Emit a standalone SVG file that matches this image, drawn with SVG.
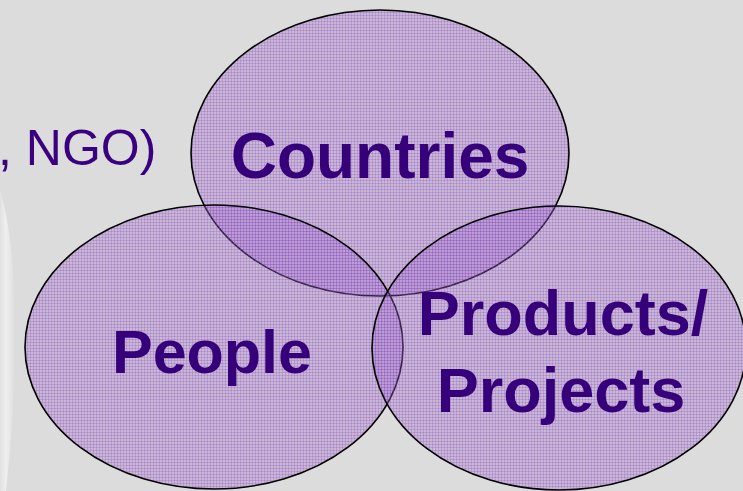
<svg xmlns="http://www.w3.org/2000/svg" width="743" height="491" viewBox="0 0 743 491">
  <defs>
    <pattern id="weave" width="3" height="3" patternUnits="userSpaceOnUse">
      <rect width="3" height="3" fill="#a36ad2" fill-opacity="0.32"/>
      <rect width="3" height="1" fill="#7b3aae" fill-opacity="0.22"/>
      <rect width="1" height="3" fill="#7b3aae" fill-opacity="0.22"/>
    </pattern>
    <linearGradient id="swoosh" x1="0" y1="0" x2="1" y2="0">
      <stop offset="0" stop-color="#ffffff" stop-opacity="0.15"/>
      <stop offset="0.4" stop-color="#ffffff" stop-opacity="0.55"/>
      <stop offset="1" stop-color="#ffffff" stop-opacity="0"/>
    </linearGradient>
  </defs>
  <style>
    .set { fill: url(#weave); stroke: #000; stroke-width: 1.6; }
    .lbl { font-family: "Liberation Sans", Arial, sans-serif; font-weight: bold; fill: #36007a; text-anchor: middle; }
    .plain { font-family: "Liberation Sans", Arial, sans-serif; fill: #3a0080; }
  </style>
  <rect width="743" height="491" fill="#dcdcdc"/>
  <path d="M0 190 C 18 250, 20 360, 6 491 L 0 491 Z" fill="url(#swoosh)"/>
  <text class="plain" x="-2" y="165" font-size="50">, NGO)</text>
  <g id="countries">
    <ellipse class="set" cx="380" cy="153" rx="189" ry="143"/>
  </g>
  <g id="people">
    <ellipse class="set" cx="214" cy="347" rx="189" ry="142"/>
  </g>
  <g id="products">
    <ellipse class="set" cx="559" cy="348" rx="187" ry="142"/>
  </g>
  <g id="labels">
    <text class="lbl" x="380" y="178" font-size="64">Countries</text>
    <text class="lbl" x="212" y="373" font-size="61">People</text>
    <text class="lbl" x="563" y="335" font-size="63">Products/</text>
    <text class="lbl" x="561" y="412" font-size="63">Projects</text>
  </g>
  <g id="connectors"/>
</svg>
